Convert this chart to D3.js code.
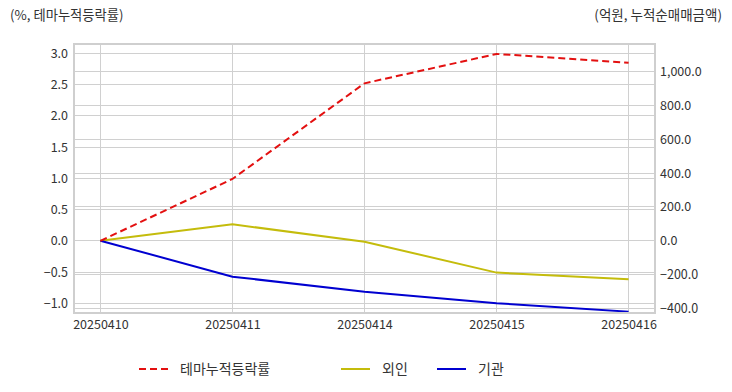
<!DOCTYPE html>
<html><head><meta charset="utf-8">
<script src="https://cdn.jsdelivr.net/npm/d3@7"></script>
<style>body{margin:0;background:#fff}svg{display:block}text{font-family:"Noto Sans CJK KR","Noto Sans",sans-serif}</style>
</head><body><svg id="c" width="732" height="392"></svg>
<script>
const categories = ["20250410","20250411","20250414","20250415","20250416"];
const themeReturn = [0.0, 0.99, 2.52, 2.99, 2.85];
const foreign = [0, 97, -6, -189, -228];
const institution = [0, -213, -302, -370, -420];
const leftTicks = [-1.0,-0.5,0,0.5,1.0,1.5,2.0,2.5,3.0];
const rightTicks = [-400,-200,0,200,400,600,800,1000];
const seriesNames = ["테마누적등락률","외인","기관"];
const leftTitle = "(%, 테마누적등락률)";
const rightTitle = "(억원, 누적순매매금액)";

const svg = d3.select("#c");
const L=74,R=655,T=44,B=313;
const x = d3.scalePoint().domain(categories).range([L,R]).padding(0.2);
const yL = d3.scaleLinear().domain([-1.155,3.149]).range([B,T]);
const yR = d3.scaleLinear().domain([-428,1164]).range([B,T]);
const grid="#d0d0d0";
const g = svg.append("g");
leftTicks.forEach(v=>g.append("line").attr("x1",L).attr("x2",R).attr("y1",yL(v)).attr("y2",yL(v)).attr("stroke",grid).attr("stroke-width",1).attr("shape-rendering","crispEdges"));
rightTicks.forEach(v=>g.append("line").attr("x1",L).attr("x2",R).attr("y1",yR(v)).attr("y2",yR(v)).attr("stroke",grid).attr("stroke-width",1).attr("shape-rendering","crispEdges"));
categories.forEach(c=>g.append("line").attr("x1",x(c)).attr("x2",x(c)).attr("y1",T).attr("y2",B).attr("stroke",grid).attr("shape-rendering","crispEdges"));
g.append("rect").attr("x",L).attr("y",T).attr("width",R-L).attr("height",B-T).attr("fill","none").attr("stroke","#cfcfcf").attr("stroke-width",2);

const fmt1 = d3.format(".1f");
const axL = d3.axisLeft(yL).tickValues(leftTicks).tickFormat(fmt1).tickSize(0).tickPadding(6);
const gL = svg.append("g").attr("transform",`translate(${L},0)`).call(axL);
const axR = d3.axisRight(yR).tickValues(rightTicks).tickFormat(d3.format(",.1f")).tickSize(0).tickPadding(5);
const gR = svg.append("g").attr("transform",`translate(${R},0)`).call(axR);
const axB = d3.axisBottom(x).tickSize(0).tickPadding(7);
const gB = svg.append("g").attr("transform",`translate(0,${B})`).call(axB);
[gL,gR,gB].forEach(a=>{a.select(".domain").remove();a.selectAll("text").attr("fill","#333").style("font-size","12.5px").style("font-family",'"Noto Sans CJK KR",sans-serif');});

svg.append("clipPath").attr("id","pc").append("rect").attr("x",L).attr("y",T-2).attr("width",R-L).attr("height",B-T+1);
const lineL = d3.line().x((d,i)=>x(categories[i])).y(d=>yL(d));
const lineR = d3.line().x((d,i)=>x(categories[i])).y(d=>yR(d));
const pg = svg.append("g").attr("clip-path","url(#pc)");
pg.append("path").attr("d",lineR(foreign)).attr("fill","none").attr("stroke","#c4bc0c").attr("stroke-width",2);
pg.append("path").attr("d",lineR(institution)).attr("fill","none").attr("stroke","#0000d0").attr("stroke-width",2);
pg.append("path").attr("d",lineL(themeReturn)).attr("fill","none").attr("stroke","#e31010").attr("stroke-width",2).attr("stroke-dasharray","7,4");

svg.append("text").attr("x",10).attr("y",20).attr("fill","#333").style("font-size","13.3px").text(leftTitle);
svg.append("text").attr("x",722).attr("y",20).attr("text-anchor","end").attr("fill","#333").style("font-size","13.5px").text(rightTitle);

const leg = [{n:seriesNames[0],c:"#e31010",d:"7,4",x:139},{n:seriesNames[1],c:"#c4bc0c",d:null,x:341},{n:seriesNames[2],c:"#0000d0",d:null,x:437}];
leg.forEach(l=>{
  svg.append("line").attr("x1",l.x).attr("x2",l.x+29).attr("y1",369).attr("y2",369).attr("stroke",l.c).attr("stroke-width",2).attr("stroke-dasharray",l.d);
  svg.append("text").attr("x",l.x+41).attr("y",374).attr("fill","#333").style("font-size","14px").text(l.n);
});
</script></body></html>
